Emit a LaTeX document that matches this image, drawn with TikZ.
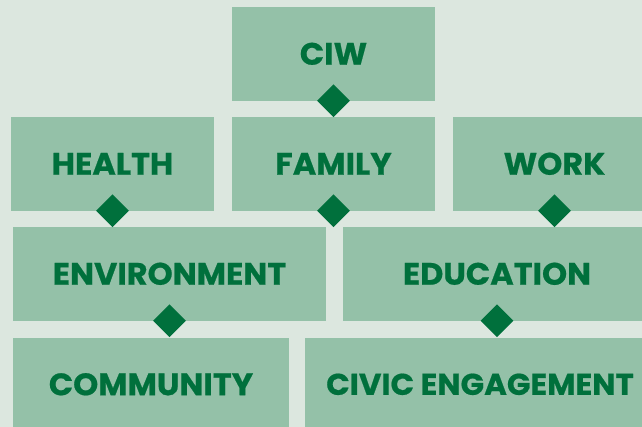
\documentclass[tikz,border=0pt]{standalone}
\usepackage{fontspec}
\setmainfont{Poppins}[FakeStretch=1.03, BoldFeatures={FakeBold=0.6}]
\usetikzlibrary{shapes.geometric}
\definecolor{paper}{RGB}{220,231,223}
\definecolor{tile}{RGB}{148,193,168}
\definecolor{ink}{RGB}{0,112,60}
\begin{document}
\begin{tikzpicture}[x=1pt,y=-1pt,
  tilebox/.style={rectangle, fill=tile, inner sep=0pt, minimum height=93.5pt,
    text=ink, font=\fontsize{31}{31}\selectfont\bfseries},
  joint/.style={diamond, fill=ink, inner sep=0pt, minimum size=33pt}]
\clip (0,0) rectangle (642,427);
\fill[paper] (0,0) rectangle (642,427);

% tiles, row by row
\node[tilebox, minimum width=203pt] (ciw)    at (333.5,53.8)  {CIW};
\node[tilebox, minimum width=203pt] (health) at (112.5,163.8) {HEALTH};
\node[tilebox, minimum width=203pt] (family) at (333.5,163.8) {FAMILY};
\node[tilebox, minimum width=203pt] (work)   at (554.5,163.8) {WORK};
\node[tilebox, minimum width=313pt] (env)    at (169.5,273.8) {ENVIRONMENT};
\node[tilebox, minimum width=308pt] (edu)    at (497,273.8)   {EDUCATION};
\node[tilebox, minimum width=276pt] (comm)   at (151,384.3)   {COMMUNITY};
\node[tilebox, minimum width=350pt, font=\fontsize{30}{30}\selectfont\bfseries]
  (civic) at (480,384.3) {CIVIC ENGAGEMENT};

% diamond joints on the lower edges
\node[joint] (jciw)    at (ciw.south)    {};
\node[joint] (jhealth) at (health.south) {};
\node[joint] (jfamily) at (family.south) {};
\node[joint] (jwork)   at (work.south)   {};
\node[joint] (jenv)    at (env.south)    {};
\node[joint] (jedu)    at (edu.south)    {};
\end{tikzpicture}
\end{document}
